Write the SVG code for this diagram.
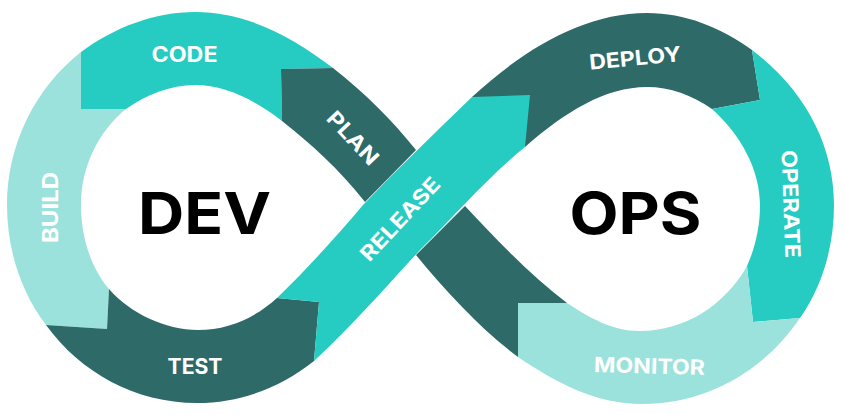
<svg xmlns="http://www.w3.org/2000/svg" width="845" height="415" viewBox="0 0 845 415">
<style>
.teal{fill:#26ccc2}.dark{fill:#2d6a68}.light{fill:#9ce2dc}
.l{font-family:"Inter","Liberation Sans",sans-serif;font-weight:700;font-size:21px;fill:#fff;text-anchor:middle}
.b{font-family:"Inter","Liberation Sans",sans-serif;font-weight:700;font-size:58px;fill:#000;text-anchor:middle}
</style>
<rect width="845" height="415" fill="#fff"/>
<g id="build"><path class="light" d="M81 52C35 88 7 145 7 205C7 250 21 292 46 325L107 329L109 289C91 268 81 237 81 205C81 165 100 130 126 109L81 109Z"/>
<text class="l" transform="translate(50 207.500) rotate(-90)" y="7.500" textLength="71" lengthAdjust="spacingAndGlyphs">BUILD</text></g>
<g id="code"><path class="teal" d="M81 52C115 27 155 12 195 12C245 12 290 35 333 68L281 69L282 121C255 100 225 85 195 85C170 85 146 95 126 109L81 109Z"/>
<text class="l" x="184.500" y="62" textLength="66" lengthAdjust="spacingAndGlyphs">CODE</text></g>
<g id="plan"><path class="dark" d="M281 69L333 68C365 93 392 120 416 150L365 202C340 170 310 143 282 121Z"/>
<path class="dark" d="M465 206C497 240 530 275 567 303L518 303L518 357C482 330 448 294 416 255Z"/>
<text class="l" transform="translate(353 138) rotate(47)" y="7.500" textLength="65" lengthAdjust="spacingAndGlyphs">PLAN</text></g>
<g id="test"><path class="dark" d="M46 325L107 329L109 289C130 313 165 330 198 330C228 330 255 318 277 298L319 302L314 361C280 388 240 403 197 403C135 403 80 372 46 325Z"/>
<text class="l" x="195" y="374" textLength="55" lengthAdjust="spacingAndGlyphs">TEST</text></g>
<g id="deploy"><path class="dark" d="M472 97C525 48 585 13 647 13C685 13 720 27 752 50L760 100L712 109C692 95 670 87 647 87C605 87 565 112 525 147Z"/>
<text class="l" transform="translate(635 58) rotate(-5.500)" y="7.500" textLength="92" lengthAdjust="spacingAndGlyphs">DEPLOY</text></g>
<g id="release"><path class="teal" d="M472 97L530 95L525 147C490 175 455 215 420 250C385 288 350 328 314 361L319 302L277 298C308 268 335 238 363 205C398 168 435 133 472 97Z"/>
<text class="l" transform="translate(400 219) rotate(-47)" y="7.500" textLength="106" lengthAdjust="spacingAndGlyphs">RELEASE</text></g>
<g id="operate"><path class="teal" d="M752 50C805 90 834 145 834 205C834 247 822 287 800 318L753 322L747 266C755 248 760 228 760 205C760 170 741 135 712 109L760 100Z"/>
<text class="l" transform="translate(791 204) rotate(88)" y="7.500" textLength="108" lengthAdjust="spacingAndGlyphs">OPERATE</text></g>
<g id="monitor"><path class="light" d="M518 303L567 303C590 318 612 331 640 331C685 331 725 305 747 266L753 322L800 318C765 370 707 404 642 404C595 404 555 382 518 357Z"/>
<text class="l" transform="translate(649.500 366) rotate(1.500)" y="7.500" textLength="111" lengthAdjust="spacingAndGlyphs">MONITOR</text></g>
<g id="dev"><text class="b" x="204.500" y="234" textLength="133" lengthAdjust="spacingAndGlyphs">DEV</text></g>
<g id="ops"><text class="b" x="635.500" y="234" textLength="132" lengthAdjust="spacingAndGlyphs">OPS</text></g>
</svg>
